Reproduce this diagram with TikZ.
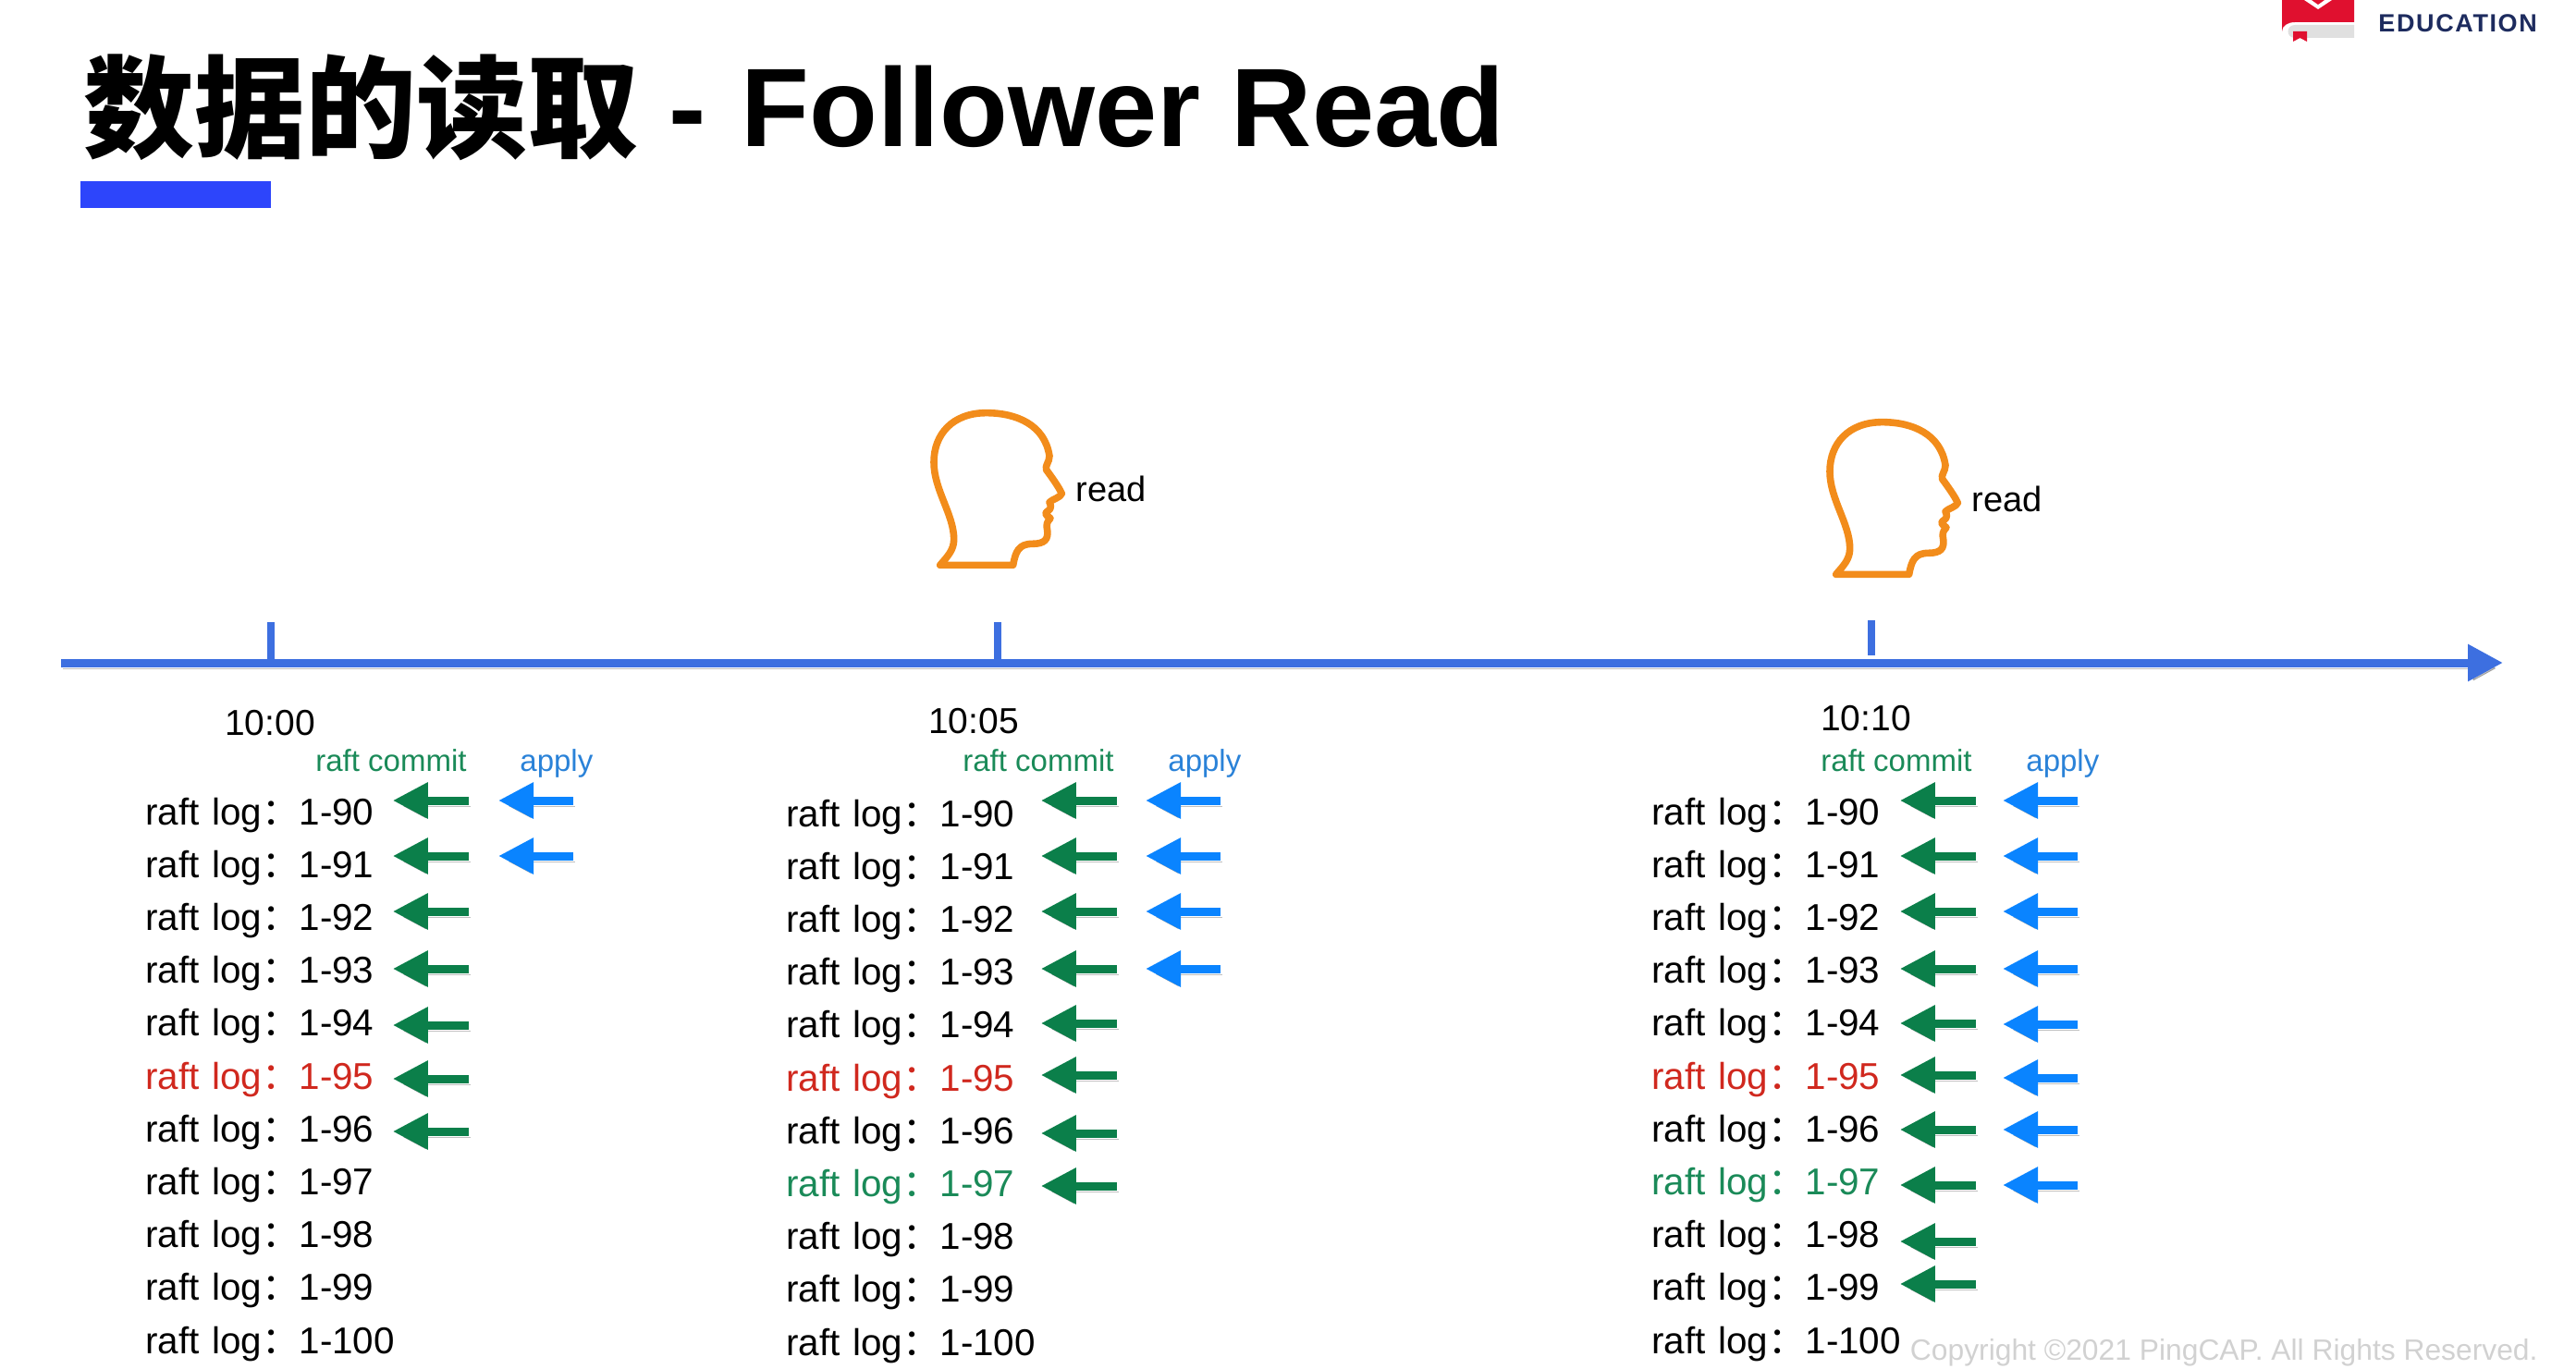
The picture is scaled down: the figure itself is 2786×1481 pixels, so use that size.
\documentclass[tikz,border=0pt]{standalone}
\usepackage{fontspec}
\setmainfont{Liberation Sans}
\newfontfamily\cjk{Noto Sans CJK SC}
\newfontfamily\logofont[LetterSpace=6]{Liberation Sans}
\usetikzlibrary{positioning,arrows.meta}

\definecolor{axisblue}{HTML}{3D6FE0}
\definecolor{rulecolor}{HTML}{2D45FB}
\definecolor{commitgreen}{HTML}{0B7F4A}
\definecolor{applyblue}{HTML}{0A84FF}
\definecolor{labelgreen}{HTML}{1A8A58}
\definecolor{labelblue}{HTML}{2A82D8}
\definecolor{logred}{HTML}{D0281E}
\definecolor{headorange}{HTML}{F28C1B}
\definecolor{logored}{HTML}{E0102F}
\definecolor{logonavy}{HTML}{1D2B5E}

\tikzset{
  arrowshade/.style={preaction={draw=black, opacity=.25, transform canvas={xshift=.8pt, yshift=-3pt}}},
  commitarrow/.style={draw=commitgreen, line width=4.5pt, -{Triangle[length=19pt, width=18.5pt]}, arrowshade},
  applyarrow/.style={draw=applyblue, line width=4.5pt, -{Triangle[length=19pt, width=18.5pt]}, arrowshade},
  logrow/.style={anchor=base west, inner sep=0pt, font=\fontsize{20.2}{24}\selectfont, align=left},
  rowa95/.style={text=logred}, rowb95/.style={text=logred}, rowc95/.style={text=logred},
  rowb97/.style={text=labelgreen}, rowc97/.style={text=labelgreen},
  tickmark/.style={draw=axisblue, line width=4pt},
  timelabel/.style={anchor=base, inner sep=0pt, font=\fontsize{19.5}{24}\selectfont},
  readlabel/.style={anchor=base west, inner sep=0pt, font=\fontsize{19}{24}\selectfont},
  commitlabel/.style={anchor=base west, inner sep=0pt, text=labelgreen, font=\fontsize{16.5}{20}\selectfont},
  applylabel/.style={anchor=base west, inner sep=0pt, text=labelblue, font=\fontsize{16.5}{20}\selectfont},
  headshape/.pic={
    \draw[draw=headorange, line width=3.8pt, line join=round]
      (200,634) -- (437,634)
      .. controls (445,590) and (455,565) .. (500,565)
      .. controls (540,565) and (552,550) .. (548,520)
      .. controls (545,505) and (545,495) .. (558,482)
      .. controls (550,475) and (538,470) .. (545,462)
      .. controls (555,455) and (565,450) .. (555,430)
      .. controls (565,420) and (590,415) .. (595,402)
      .. controls (585,380) and (560,345) .. (545,325)
      .. controls (540,310) and (555,300) .. (555,280)
      .. controls (540,180) and (450,140) .. (350,140)
      .. controls (240,140) and (180,210) .. (180,300)
      .. controls (180,390) and (245,470) .. (245,550)
      .. controls (245,585) and (225,605) .. (200,634) -- cycle;
  }
}

\begin{document}
\begin{tikzpicture}[x=0.5pt, y=-0.5pt]
  \useasboundingbox (0,0) rectangle (2786,1481);

  % title
  \node[anchor=base west, inner sep=0pt, font=\fontsize{60.4}{70}\selectfont\bfseries] (title) at (90,159) {\raisebox{-1.5pt}{\fontsize{60}{70}\selectfont\cjk 数据的读取} - \kern2pt Follower Read};
  \fill[rulecolor] (87,196) rectangle (293,225);

  % logo
  \fill[logored] (2468,0) -- (2546,0) -- (2546,24) -- (2482,24) .. controls (2474,24) and (2468,28) .. (2468,34) -- cycle;
  \fill[white] (2492,0) -- (2507,10) -- (2522,0) -- cycle;
  \fill[logored] (2500,0) -- (2507,5) -- (2514,0) -- cycle;
  \fill[black!12] (2546,27) -- (2482,27) .. controls (2472,27) and (2472,41) .. (2482,41) -- (2546,41) -- cycle;
  \fill[logored] (2480,34) -- (2495,34) -- (2495,45) -- (2487.5,41) -- (2480,45) -- cycle;
  \node[anchor=base west, inner sep=0pt, text=logonavy, font=\fontsize{13.5}{16}\logofont\bfseries] (edu) at (2572,35) {EDUCATION};

  % time axis
  \node[coordinate] (axisstart) at (66,717) {};
  \node[coordinate] (axisend) at (2707,717) {};
  \draw[draw=axisblue, line width=4.5pt, -{Triangle[length=19pt, width=19pt]}, arrowshade] (axisstart) -- (axisend);
  \foreach \t/\tx/\ty/\tb/\tlx/\tly/\tl in {1/293/673/717/292/795/10:00, 2/1079/673/717/1053/793/10:05, 3/2024/671/709/2018/790/10:10} {
    \node[coordinate] (tick\t) at (\tx,\ty) {};
    \draw[tickmark] (tick\t) -- (\tx,\tb);
    \node[timelabel] (time\t) at (\tlx,\tly) {\tl};
  }

  % readers
  \pic[scale=1/3] (headone) at (950,400) {headshape};
  \pic[scale=1/3] (headtwo) at (1919,410) {headshape};
  \node[readlabel] (readone) at (1163,543) {read};
  \node[readlabel] (readtwo) at (2132,553) {read};

  % column headers
  \foreach \c/\cx/\ax in {a/341/562, b/1041/1263, c/1969/2191} {
    \node[commitlabel] (commit\c) at (\cx,834) {raft commit};
    \node[applylabel] (apply\c) at (\ax,834) {apply};
  }

  % log rows, the east side of a row is where its commit arrows end
  \foreach \c/\lx/\ly/\tw in {a/157/892/267pt, b/850/894/275pt, c/1786/892/268pt} {
    \foreach \r [count=\i from 0] in {90,...,100} {
      \node[logrow, text width=0.5*\tw, row\c\r/.try] (\c\r) at (\lx,\ly+57.2*\i) {\mbox{raft log{\cjk ：}1-\r}};
    }
  }

  % commit arrows
  \foreach \r/\ay in {90/866, 91/926, 92/986, 93/1048, 94/1109, 95/1167, 96/1224} {
    \coordinate (cma\r) at (507,\ay);
    \draw[commitarrow] (cma\r) -- (cma\r -| a\r.east);
  }
  \foreach \r/\ay in {90/866, 91/926, 92/986, 93/1048, 94/1107, 95/1163, 96/1226, 97/1283} {
    \coordinate (cmb\r) at (1208,\ay);
    \draw[commitarrow] (cmb\r) -- (cmb\r -| b\r.east);
  }
  \foreach \r/\ay in {90/866, 91/926, 92/986, 93/1048, 94/1107, 95/1163, 96/1222, 97/1282, 98/1343, 99/1389} {
    \coordinate (cmc\r) at (2137,\ay);
    \draw[commitarrow] (cmc\r) -- (cmc\r -| c\r.east);
  }

  % apply arrows
  \foreach \r/\ay in {90/866, 91/926} {
    \coordinate (apa\r) at (620,\ay);
    \draw[applyarrow] (apa\r) -- ++(-81,0);
  }
  \foreach \r/\ay in {90/866, 91/926, 92/986, 93/1048} {
    \coordinate (apb\r) at (1320,\ay);
    \draw[applyarrow] (apb\r) -- ++(-81,0);
  }
  \foreach \r/\ay in {90/866, 91/926, 92/986, 93/1048, 94/1108, 95/1166, 96/1222, 97/1282} {
    \coordinate (apc\r) at (2247,\ay);
    \draw[applyarrow] (apc\r) -- ++(-81,0);
  }

  \node[anchor=base east, inner sep=0pt, text=black!18, font=\fontsize{15.9}{20}\selectfont] (copyright) at (2745,1471) {Copyright ©2021 PingCAP. All Rights Reserved.};
\end{tikzpicture}
\end{document}
